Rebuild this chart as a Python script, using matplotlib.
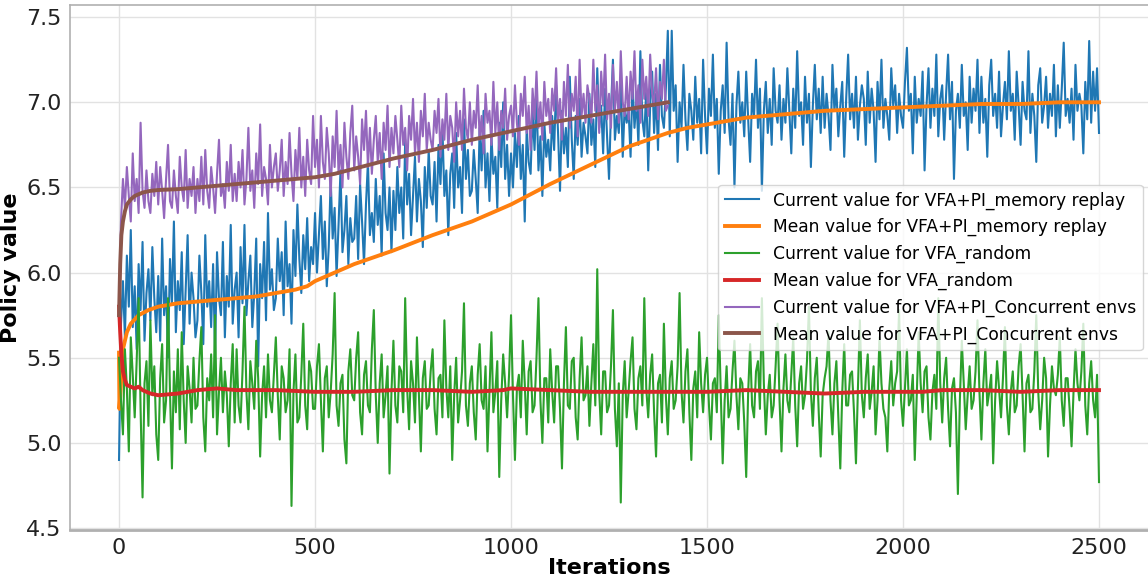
import numpy as np
import matplotlib
matplotlib.use('Agg')
import matplotlib.pyplot as plt

# Current value for VFA+PI_memory replay, one reading every 5 iterations (0..2500)
replay_current = [
    4.90, 5.70, 5.95, 5.62, 6.10, 5.80, 6.25, 5.68, 5.92, 5.55, 6.05, 5.78, 6.18, 5.60, 5.88, 6.02, 5.72, 6.15, 5.85, 5.65,
    5.98, 5.60, 6.20, 5.75, 5.92, 5.50, 6.08, 5.82, 6.30, 5.65, 5.95, 5.78, 6.12, 5.58, 5.90, 6.22, 5.70, 6.00, 5.85, 5.62,
    5.72, 6.10, 5.88, 5.58, 6.22, 5.80, 5.95, 5.68, 6.05, 5.52, 6.12, 5.85, 5.75, 6.18, 5.62, 5.98, 5.80, 6.28, 5.70, 5.90,
    6.00, 5.62, 6.15, 5.82, 6.28, 5.75, 5.95, 6.10, 5.68, 5.88, 6.20, 5.45, 6.05, 5.85, 6.18, 5.72, 6.35, 5.90, 6.02, 5.78,
    5.85, 6.20, 5.95, 6.12, 5.75, 6.30, 5.92, 6.05, 5.70, 6.25, 5.98, 6.40, 6.08, 5.88, 6.22, 6.02, 6.32, 5.95, 6.15, 6.05,
    6.35, 6.00, 6.22, 6.45, 6.08, 6.30, 5.92, 6.15, 6.55, 6.20, 6.38, 5.98, 6.28, 6.60, 6.12, 6.25, 6.45, 6.05, 6.32, 6.18,
    6.20, 6.45, 6.08, 6.52, 6.30, 6.05, 6.40, 6.65, 6.22, 6.35, 6.18, 6.55, 6.28, 6.45, 6.10, 6.70, 6.35, 6.25, 6.50, 6.12,
    6.48, 6.25, 6.62, 6.35, 6.50, 6.20, 6.78, 6.40, 6.58, 6.22, 6.45, 6.68, 6.30, 6.55, 6.42, 6.15, 6.62, 6.38, 6.72, 6.45,
    6.40, 6.65, 6.30, 6.75, 6.52, 6.85, 6.45, 6.60, 6.22, 6.58, 6.70, 6.38, 6.82, 6.50, 6.62, 6.35, 6.90, 6.55, 6.72, 6.45,
    6.48, 6.72, 6.55, 6.35, 6.85, 6.60, 6.95, 6.50, 6.70, 6.42, 6.80, 6.58, 6.68, 6.38, 6.88, 6.62, 7.00, 6.55, 6.75, 6.45,
    6.70, 6.50, 6.82, 6.62, 6.92, 6.55, 6.75, 6.30, 6.85, 6.65, 6.58, 6.95, 6.72, 7.05, 6.60, 6.80, 6.45, 6.88, 6.68, 6.78,
    6.60, 6.92, 6.72, 7.10, 6.82, 6.48, 6.95, 6.70, 6.85, 6.62, 7.15, 6.78, 6.55, 6.92, 6.75, 7.02, 6.68, 6.88, 6.80, 6.70,
    7.05, 6.75, 6.90, 6.62, 7.20, 6.85, 6.98, 6.70, 7.08, 6.80, 6.55, 6.95, 7.25, 6.78, 6.92, 6.82, 7.12, 6.68, 6.98, 6.88,
    6.95, 6.68, 7.12, 6.85, 7.02, 6.75, 7.30, 6.90, 6.80, 7.08, 6.60, 6.98, 7.18, 6.82, 7.05, 6.72, 7.22, 6.92, 6.85, 7.08,
    7.42, 6.80, 7.42, 6.95, 7.10, 6.65, 7.00, 6.85, 7.22, 6.90, 6.72, 7.05, 6.95, 6.78, 7.15, 6.88, 7.02, 6.70, 7.25, 6.92,
    6.70, 7.08, 6.92, 7.28, 6.85, 7.02, 6.58, 6.95, 7.10, 6.82, 7.35, 6.90, 6.75, 7.05, 6.50, 6.98, 7.18, 6.88, 7.00, 6.80,
    7.18, 6.90, 6.65, 7.05, 6.92, 7.25, 6.85, 7.08, 6.48, 6.95, 7.12, 6.82, 7.02, 6.75, 7.20, 6.95, 6.88, 7.10, 6.78, 7.02,
    6.88, 7.20, 6.95, 6.70, 7.08, 6.85, 7.30, 6.92, 7.00, 6.75, 7.15, 6.88, 7.05, 6.62, 6.98, 7.22, 6.90, 7.08, 6.82, 7.15,
    6.85, 7.05, 6.92, 6.72, 7.22, 6.95, 7.08, 6.80, 6.98, 7.12, 6.68, 7.02, 7.28, 6.90, 7.05, 6.85, 7.15, 6.78, 6.98, 7.10,
    7.02, 6.75, 7.18, 6.88, 7.08, 6.95, 6.65, 7.12, 6.90, 7.25, 6.85, 7.02, 6.92, 6.78, 7.20, 6.98, 7.10, 6.82, 7.05, 6.92,
    6.85, 7.12, 7.32, 6.95, 7.05, 6.70, 7.15, 6.88, 7.02, 6.92, 7.18, 6.60, 6.98, 7.20, 6.85, 7.08, 6.92, 7.28, 6.80, 7.02,
    7.10, 6.78, 7.05, 7.28, 6.90, 7.12, 6.55, 6.95, 7.05, 6.85, 7.22, 6.92, 7.00, 6.72, 7.15, 6.88, 7.08, 6.95, 7.25, 6.82,
    7.15, 6.88, 7.02, 6.68, 7.10, 7.25, 6.92, 7.05, 6.85, 7.18, 6.80, 6.98, 7.12, 6.90, 7.30, 6.95, 7.05, 6.78, 7.18, 6.98,
    6.75, 7.12, 6.95, 6.90, 7.30, 6.82, 7.05, 6.92, 6.65, 7.10, 7.20, 6.88, 6.98, 7.15, 6.85, 7.05, 6.92, 7.22, 6.80, 7.10,
    6.85, 7.08, 7.35, 6.92, 7.02, 6.88, 7.08, 6.78, 7.22, 6.95, 7.05, 6.98, 6.70, 7.12, 6.90, 7.36, 6.88, 7.18, 6.95, 7.20,
    6.82,
]

# Current value for VFA_random, every 5 iterations (0..2500)
random_current = [
    5.50, 5.25, 5.05, 5.55, 5.32, 4.95, 5.62, 5.40, 5.15, 5.48, 5.85, 5.20, 4.68, 5.35, 5.48, 5.10, 5.72, 5.28, 5.45, 5.05,
    4.90, 5.38, 5.58, 5.12, 5.25, 5.85, 5.30, 4.85, 5.42, 5.18, 5.55, 5.08, 5.65, 5.25, 5.00, 5.45, 5.32, 5.12, 5.50, 5.20,
    5.22, 5.48, 5.68, 5.15, 4.95, 5.38, 5.25, 5.52, 5.15, 5.75, 5.05, 5.30, 5.50, 5.18, 5.42, 5.28, 4.98, 5.35, 5.58, 5.12,
    5.55, 5.22, 5.12, 5.42, 5.80, 5.30, 5.08, 5.48, 5.35, 5.20, 5.60, 5.38, 4.92, 5.28, 5.45, 5.15, 5.52, 5.25, 5.18, 5.40,
    5.62, 5.28, 5.02, 5.45, 5.38, 5.18, 5.25, 5.55, 4.63, 5.30, 5.52, 5.12, 5.15, 5.40, 5.70, 5.22, 5.08, 5.48, 5.42, 5.20,
    5.20, 5.45, 5.58, 5.25, 4.95, 5.38, 5.45, 5.15, 5.30, 5.52, 5.88, 5.22, 5.10, 5.35, 5.40, 5.02, 4.88, 5.42, 5.55, 5.28,
    5.25, 5.50, 5.65, 5.18, 5.05, 5.40, 5.48, 5.22, 5.18, 5.55, 5.78, 5.28, 5.00, 5.35, 5.52, 5.15, 5.28, 5.45, 4.82, 5.30,
    5.60, 5.22, 5.12, 5.45, 5.42, 5.18, 5.85, 5.32, 5.08, 5.48, 5.35, 5.12, 5.62, 5.28, 4.95, 5.38, 5.48, 5.20, 5.22, 5.42,
    5.55, 5.20, 5.05, 5.38, 5.40, 5.15, 5.72, 5.32, 5.15, 5.45, 4.90, 5.28, 5.50, 5.12, 5.25, 5.42, 5.82, 5.22, 5.10, 5.35,
    5.45, 5.18, 5.02, 5.40, 5.58, 5.25, 5.20, 5.45, 4.95, 5.30, 5.65, 5.18, 5.30, 5.48, 4.80, 5.25, 5.52, 5.35, 5.15, 5.40,
    5.75, 5.28, 4.90, 5.32, 5.40, 5.15, 5.60, 5.35, 5.05, 5.42, 5.48, 5.18, 5.22, 5.50, 5.85, 5.25, 5.00, 5.38, 5.38, 5.12,
    5.55, 5.30, 5.12, 5.45, 5.45, 5.20, 4.85, 5.35, 5.68, 5.22, 5.20, 5.48, 5.50, 5.15, 5.02, 5.38, 5.62, 5.25, 5.28, 5.45,
    5.10, 5.35, 5.58, 5.22, 6.02, 5.30, 5.05, 5.42, 5.42, 5.18, 5.22, 5.45, 5.78, 5.20, 4.98, 5.35, 4.65, 5.28, 5.48, 5.15,
    5.30, 5.48, 5.62, 5.20, 5.08, 5.38, 5.45, 5.22, 5.85, 5.32, 5.15, 5.40, 5.52, 5.18, 4.92, 5.35, 5.40, 5.12, 5.70, 5.28,
    5.05, 5.38, 5.48, 5.20, 5.25, 5.45, 5.88, 5.30, 5.12, 5.42, 5.55, 5.18, 4.90, 5.32, 5.42, 5.15, 5.65, 5.35, 5.18, 5.40,
    5.50, 5.22, 5.02, 5.35, 5.38, 5.18, 5.75, 5.30, 4.88, 5.25, 5.45, 5.15, 5.20, 5.42, 5.60, 5.28, 5.08, 5.38, 5.35, 5.12,
    4.80, 5.30, 5.58, 5.22, 5.15, 5.42, 5.48, 5.20, 5.85, 5.35, 5.05, 5.28, 5.40, 5.15, 5.22, 5.45, 5.70, 5.25, 4.95, 5.32,
    5.52, 5.25, 5.18, 5.40, 5.62, 5.22, 4.98, 5.35, 5.45, 5.20, 5.28, 5.48, 5.80, 5.30, 5.10, 5.38, 5.50, 5.18, 4.92, 5.28,
    5.38, 5.45, 5.65, 5.25, 5.05, 5.35, 5.48, 5.15, 4.85, 5.30, 5.58, 5.22, 5.22, 5.40, 5.42, 5.18, 4.88, 5.32, 5.72, 5.28,
    5.15, 5.38, 5.52, 5.20, 5.30, 5.45, 5.05, 5.25, 5.62, 5.35, 5.20, 5.15, 4.95, 5.32, 5.48, 5.22, 5.35, 5.42, 5.78, 5.25,
    5.10, 5.32, 5.55, 5.22, 5.25, 5.40, 4.90, 5.28, 5.65, 5.35, 5.18, 5.42, 5.45, 5.15, 5.02, 5.30, 5.40, 5.20, 5.85, 5.35,
    5.12, 5.38, 5.50, 5.20, 4.98, 5.32, 5.38, 5.18, 4.70, 5.25, 5.60, 5.35, 5.08, 5.28, 5.45, 5.20, 5.25, 5.42, 5.72, 5.30,
    5.02, 5.35, 5.55, 5.22, 5.30, 5.40, 4.88, 5.25, 5.48, 5.32, 5.15, 5.38, 5.68, 5.22, 5.05, 5.30, 5.42, 5.18, 5.22, 5.45,
    5.58, 5.28, 4.95, 5.35, 5.40, 5.18, 5.20, 5.42, 5.75, 5.30, 5.08, 5.25, 5.50, 5.38, 4.92, 5.22, 5.45, 5.32, 5.28, 5.40,
    5.62, 5.25, 5.10, 5.38, 5.38, 5.20, 4.98, 5.30, 5.55, 5.35, 5.25, 5.42, 5.70, 5.22, 5.05, 5.35, 5.48, 5.25, 5.15, 5.40,
    4.77,
]

# Current value for VFA+PI_Concurrent envs, every 5 iterations (0..1400)
conc_current = [
    5.75, 6.30, 6.55, 6.38, 6.62, 6.45, 6.30, 6.70, 6.42, 6.55, 6.35, 6.88, 6.48, 6.38, 6.60, 6.42, 6.35, 6.58, 6.45, 6.65,
    6.40, 6.62, 6.48, 6.32, 6.55, 6.75, 6.42, 6.38, 6.60, 6.45, 6.35, 6.68, 6.50, 6.42, 6.72, 6.38, 6.55, 6.45, 6.62, 6.35,
    6.55, 6.42, 6.68, 6.40, 6.72, 6.48, 6.38, 6.62, 6.50, 6.35, 6.58, 6.78, 6.45, 6.52, 6.38, 6.65, 6.48, 6.75, 6.42, 6.58,
    6.42, 6.65, 6.50, 6.72, 6.40, 6.55, 6.85, 6.48, 6.60, 6.38, 6.70, 6.52, 6.87, 6.45, 6.62, 6.55, 6.40, 6.75, 6.50, 6.62,
    6.70, 6.48, 6.60, 6.78, 6.45, 6.65, 6.52, 6.82, 6.58, 6.42, 6.72, 6.55, 6.85, 6.50, 6.68, 6.45, 6.78, 6.60, 6.52, 6.92,
    6.62, 6.78, 6.50, 6.92, 6.65, 6.55, 6.85, 6.70, 6.45, 6.80, 6.62, 6.95, 6.58, 6.75, 6.50, 6.88, 6.68, 6.55, 6.82, 6.98,
    6.60, 6.80, 6.68, 6.52, 6.90, 6.72, 6.95, 6.62, 6.85, 6.58, 6.78, 6.92, 6.65, 6.82, 6.55, 6.88, 6.72, 6.98, 6.62, 6.85,
    6.70, 6.92, 6.78, 6.62, 6.98, 6.75, 6.85, 6.60, 6.92, 6.78, 7.02, 6.70, 6.88, 6.65, 6.95, 6.80, 7.05, 6.72, 6.88, 6.78,
    6.72, 6.95, 6.82, 7.02, 6.68, 6.90, 6.78, 7.05, 6.72, 6.92, 6.85, 6.65, 7.00, 6.80, 6.95, 6.72, 7.08, 6.85, 6.78, 7.00,
    6.75, 6.95, 6.85, 7.10, 6.78, 6.92, 6.70, 7.05, 6.88, 6.95, 6.75, 7.12, 6.82, 7.00, 6.72, 6.95, 6.85, 7.08, 6.78, 6.92,
    6.98, 6.80, 7.10, 6.88, 6.75, 7.05, 6.92, 7.15, 6.82, 6.98, 6.72, 7.08, 6.90, 7.18, 6.85, 7.00, 6.78, 7.12, 6.92, 7.02,
    6.82, 7.08, 6.95, 7.20, 6.88, 7.02, 6.78, 7.12, 6.92, 7.22, 6.85, 7.05, 6.95, 7.15, 6.80, 7.25, 6.92, 7.05, 6.88, 7.10,
    7.02, 6.88, 7.25, 6.95, 7.10, 6.82, 7.18, 6.98, 7.28, 6.90, 7.05, 6.85, 7.22, 6.95, 7.12, 6.88, 7.30, 7.00, 6.92, 7.15,
    6.90, 7.18, 7.02, 7.30, 6.95, 7.10, 6.88, 7.25, 7.02, 7.15, 6.92, 7.28, 7.05, 6.98, 7.20, 6.90, 7.12, 7.02, 7.25, 6.95,
    6.98,
]

# running means
replay_mean_x = [0, 1, 5, 10, 20, 30, 50, 75, 100, 150, 200, 250, 300, 350, 400, 450, 480,
                 500, 550, 600, 700, 800, 900, 1000, 1100, 1200, 1300, 1400, 1450, 1500,
                 1600, 1700, 1800, 1900, 2000, 2100, 2200, 2300, 2400, 2500]
replay_mean = [5.53, 5.20, 5.35, 5.55, 5.65, 5.70, 5.75, 5.78, 5.80, 5.82, 5.83, 5.84, 5.85,
               5.86, 5.88, 5.90, 5.92, 5.95, 6.00, 6.05, 6.13, 6.22, 6.30, 6.40, 6.52, 6.63,
               6.74, 6.82, 6.85, 6.87, 6.91, 6.93, 6.95, 6.96, 6.97, 6.98, 6.99, 6.99, 7.00, 7.00]

random_mean_x = [0, 3, 6, 10, 15, 20, 30, 40, 50, 60, 80, 100, 150, 200, 250, 300, 400, 500,
                 600, 700, 800, 900, 980, 1000, 1100, 1200, 1300, 1400, 1500, 1600, 1700,
                 1800, 1900, 2000, 2050, 2100, 2200, 2300, 2400, 2500]
random_mean = [5.80, 5.65, 5.52, 5.42, 5.37, 5.34, 5.33, 5.32, 5.33, 5.31, 5.29, 5.28, 5.29,
               5.31, 5.32, 5.31, 5.31, 5.30, 5.30, 5.31, 5.31, 5.30, 5.31, 5.32, 5.31, 5.30,
               5.30, 5.30, 5.30, 5.31, 5.30, 5.29, 5.30, 5.30, 5.30, 5.31, 5.31, 5.30, 5.31, 5.31]

conc_mean_x = [0, 3, 6, 10, 15, 20, 30, 40, 60, 80, 100, 150, 200, 250, 300, 350, 400, 450,
               500, 550, 600, 700, 800, 900, 1000, 1100, 1200, 1300, 1400]
conc_mean = [5.75, 6.05, 6.22, 6.30, 6.36, 6.40, 6.43, 6.45, 6.47, 6.48, 6.485, 6.49, 6.50,
             6.51, 6.52, 6.53, 6.54, 6.55, 6.56, 6.58, 6.61, 6.67, 6.72, 6.78, 6.83, 6.88,
             6.92, 6.96, 7.00]

labels = [
    'Current value for VFA+PI_memory replay',
    'Mean value for VFA+PI_memory replay',
    'Current value for VFA_random',
    'Mean value for VFA_random',
    'Current value for VFA+PI_Concurrent envs',
    'Mean value for VFA+PI_Concurrent envs',
]


def main():
    replay_x = np.linspace(0, 2500, len(replay_current))
    random_x = np.linspace(0, 2500, len(random_current))
    conc_x = np.linspace(0, 1400, len(conc_current))

    fig = plt.figure(figsize=(11.48, 5.79), dpi=100)
    ax = fig.add_axes([0.061, 0.085, 0.939, 0.906])

    ax.plot(replay_x, replay_current, color='#1f77b4', lw=1.5, label=labels[0])
    ax.plot(replay_mean_x, replay_mean, color='#ff7f0e', lw=2.8, label=labels[1])
    ax.plot(random_x, random_current, color='#2ca02c', lw=1.5, label=labels[2])
    ax.plot(random_mean_x, random_mean, color='#d62728', lw=2.8, label=labels[3])
    ax.plot(conc_x, conc_current, color='#9467bd', lw=1.5, label=labels[4])
    ax.plot(conc_mean_x, conc_mean, color='#8c564b', lw=2.8, label=labels[5])

    ax.set_xlim(-125, 2625)
    ax.set_ylim(4.49, 7.57)
    ax.set_yticks([4.5, 5.0, 5.5, 6.0, 6.5, 7.0, 7.5])
    ax.set_xticks([0, 500, 1000, 1500, 2000, 2500])
    ax.tick_params(labelsize=16, length=0, pad=6, colors='#222222')

    ax.grid(True, color='#e2e2e2', lw=1)
    ax.set_axisbelow(True)
    for side in ['left', 'top', 'bottom']:
        ax.spines[side].set_color('#b0b0b0')
        ax.spines[side].set_linewidth(1.2)
    ax.spines['bottom'].set_linewidth(2)
    ax.spines['right'].set_visible(False)

    ax.set_xlabel('Iterations', fontsize=16, fontweight='bold', labelpad=0)
    ax.set_ylabel('Policy value', fontsize=16, fontweight='bold', labelpad=4)

    ax.legend(loc='center right', fontsize=12.3, framealpha=0.8, borderaxespad=0.3,
              handlelength=2.0, labelspacing=0.5)

    fig.savefig('out.png', dpi=100)


if __name__ == '__main__':
    main()
